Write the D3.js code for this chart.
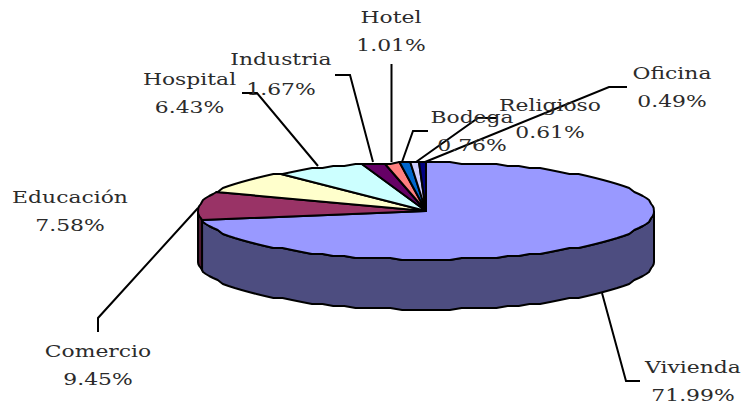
<!DOCTYPE html>
<html>
<head>
<meta charset="utf-8">
<script src="https://cdn.jsdelivr.net/npm/d3@7"></script>
<style>
  html, body { margin: 0; padding: 0; background: #fff; }
  svg { display: block; }
  text { font-family: "DejaVu Serif", serif; font-size: 17.5px; fill: #2b2b2b; text-anchor: middle; }
</style>
</head>
<body>
<div id="chart"></div>
<script>
const categories = ["Vivienda", "Comercio", "Educación", "Hospital", "Industria", "Hotel", "Bodega", "Religioso", "Oficina"];
const shares = [71.99, 9.45, 7.58, 6.43, 1.67, 1.01, 0.76, 0.61, 0.49];
const topColors = ["#9999ff", "#993366", "#ffffcc", "#ccffff", "#660066", "#ff8080", "#0066cc", "#ccccff", "#000080"];
const sideColors = ["#4d4d80", "#4d1a33", "#80806b", "#6b8080", "#330033", "#804040", "#003366", "#6b6b80", "#000040"];

// label placement: centre x, two baselines, leader polyline
const labelLayout = [
    { x: 693, y1: 373, y2: 401, leader: [[640, 381], [626, 381], [602, 293]] },
    { x: 98, y1: 357, y2: 385, leader: [[98, 332], [98, 318], [198, 208]] },
    { x: 70, y1: 203, y2: 231, leader: null },
    { x: 189.5, y1: 85, y2: 113, leader: [[242, 93], [257, 93], [318, 166]] },
    { x: 281, y1: 65, y2: 95, leader: [[335, 75], [350, 75], [373, 162]] },
    { x: 391, y1: 23, y2: 51, leader: [[391.5, 64], [391.5, 162]] },
    { x: 472, y1: 123, y2: 151, leader: [[428, 131], [413, 131], [402, 162]] },
    { x: 550, y1: 111, y2: 138, leader: [[497, 118], [478, 118], [416, 162]] },
    { x: 672, y1: 79, y2: 107, leader: [[627, 87], [609, 87], [425, 162]] }
];

const width = 744, height = 405;
const cx = 426, cy = 211, rx = 228, ry = 48.5, depth = 50;
const textStretch = 1.25;
const snap = 2; // the outline in the reference is slightly stepped, not a clean ellipse
const step = Math.PI / 60;

const svg = d3.select("#chart").append("svg")
    .attr("width", width)
    .attr("height", height)
    .attr("viewBox", [0, 0, width, height]);

const slices = d3.pie().sort(null)(shares);
const px = a => cx + rx * Math.sin(a);
const py = a => Math.round((cy - ry * Math.cos(a)) / snap) * snap;

// angles along an arc: the slice ends plus a regular step in between
function rim(a0, a1) {
    const inner = d3.range(Math.ceil(a0 / step), Math.floor(a1 / step) + 1).map(i => i * step);
    return [a0, ...inner.filter(a => a > a0 && a < a1), a1];
}

// side wall, only the front half (90deg to 270deg) can be seen
const front = [Math.PI / 2, Math.PI * 1.5];
const wall = d3.area()
    .x(a => px(a))
    .y0(a => py(a))
    .y1(a => py(a) + depth);

svg.append("g").selectAll("path")
    .data(slices.filter(d => d.startAngle < front[1] && d.endAngle > front[0]))
    .join("path")
    .attr("d", d => wall(rim(Math.max(d.startAngle, front[0]), Math.min(d.endAngle, front[1]))))
    .attr("fill", d => sideColors[d.index])
    .attr("stroke", "#000")
    .attr("stroke-width", 2)
    .attr("stroke-linejoin", "round");

// top face
const outline = d3.line();
svg.append("g").selectAll("path")
    .data(slices)
    .join("path")
    .attr("d", d => outline([[cx, cy], ...rim(d.startAngle, d.endAngle).map(a => [px(a), py(a)])]) + "Z")
    .attr("fill", d => topColors[d.index])
    .attr("stroke", "#000")
    .attr("stroke-width", 2)
    .attr("stroke-linejoin", "round");

svg.append("g").selectAll("path")
    .data(labelLayout.filter(d => d.leader))
    .join("path")
    .attr("d", d => outline(d.leader))
    .attr("fill", "none")
    .attr("stroke", "#000")
    .attr("stroke-width", 2);

const label = svg.append("g").selectAll("g")
    .data(categories)
    .join("g");

label.append("text")
    .attr("transform", (d, i) => `translate(${labelLayout[i].x},${labelLayout[i].y1}) scale(${textStretch},1)`)
    .text(d => d);

label.append("text")
    .attr("transform", (d, i) => `translate(${labelLayout[i].x},${labelLayout[i].y2}) scale(${textStretch},1)`)
    .text((d, i) => shares[i].toFixed(2) + "%");
</script>
</body>
</html>
